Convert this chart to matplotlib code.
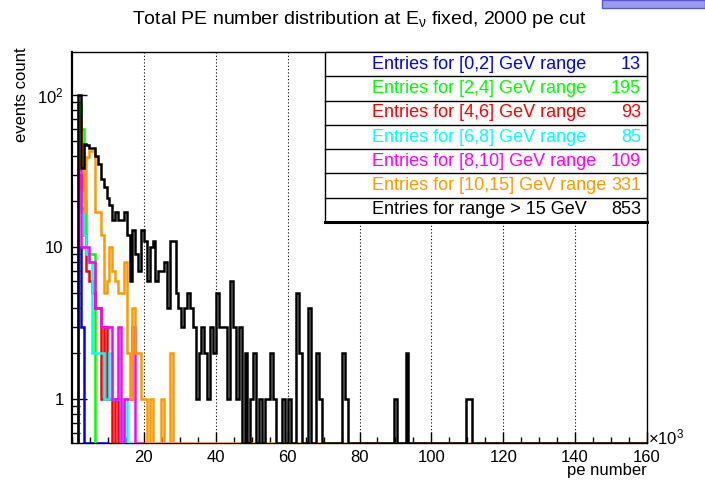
import numpy as np
import matplotlib
matplotlib.use('Agg')
import matplotlib.pyplot as plt
from matplotlib.patches import Rectangle
from matplotlib.lines import Line2D
from matplotlib.ticker import MultipleLocator, LogLocator, NullFormatter

plt.rcParams['font.family'] = ['Liberation Sans', 'DejaVu Sans']
plt.rcParams['mathtext.default'] = 'regular'

# histograms: 200 bins over 0-160 (x10^3 pe), first filled bin starts at 1.6
first_edge = 1.6
bin_width = 0.8
x_max = 160
y_min, y_max = 0.514, 192

counts_0_2 = [10, 3, 0, 0, 0, 0, 0, 0, 0, 0, 0]
counts_2_4 = [88, 60, 20, 9, 9, 9]
counts_4_6 = [30, 18, 12, 7, 6, 5, 4, 4, 1, 3, 1, 1, 0, 1, 0, 0, 0]
counts_6_8 = [23, 17, 12, 9, 8, 2, 2, 2, 2, 1, 1, 2, 1, 1, 1, 0, 1, 0, 0]
counts_8_10 = [32, 10, 10, 10, 8, 8, 4, 4, 3, 3, 3, 3, 1, 1, 3, 0, 1, 1, 1, 3,
               0, 0, 0]
counts_10_15 = [72, 33, 17, 39, 43, 43, 17, 17, 12, 5, 6, 10, 7, 6, 5, 5, 8, 2,
                1, 4, 2, 2, 1, 1, 0, 1, 0, 0, 0, 1, 0, 0, 2]
counts_15_up = [100, 33, 48, 47, 45, 45, 40, 35, 28, 25, 21, 19, 15, 17, 15, 15,
                17, 12, 6, 13, 9, 7, 13, 11, 6, 10, 11, 6, 7, 7, 8, 4, 11, 11,
                5, 4, 3, 4, 5, 4, 3, 1, 2, 3, 2, 1, 3, 2, 5, 3, 3, 3, 1, 6, 3,
                1, 3, 0, 2, 0, 1, 2, 0, 1, 0, 1, 1, 2, 1, 0, 0, 1, 0, 1, 0, 0,
                5, 2, 0, 0, 4, 0, 0, 2, 1, 0, 0, 0, 0, 0, 0, 0, 2, 1, 0, 0, 0,
                0, 0, 0, 0, 0, 0, 0, 0, 0, 0, 0, 0, 0, 1, 0, 0, 0, 2, 0, 0, 0,
                0, 0, 0, 0, 0, 0, 0, 0, 0, 0, 0, 0, 0, 0, 0, 0, 0, 1, 1]

series = [counts_0_2, counts_2_4, counts_4_6, counts_6_8, counts_8_10,
          counts_10_15, counts_15_up]
pad_series = [False, False, False, False, False, True, True]
legend_labels = ['Entries for [0,2] GeV range', 'Entries for [2,4] GeV range',
                 'Entries for [4,6] GeV range', 'Entries for [6,8] GeV range',
                 'Entries for [8,10] GeV range', 'Entries for [10,15] GeV range',
                 'Entries for range > 15 GeV']
entries = [13, 195, 93, 85, 109, 331, 853]
colors = ['#0000ff', '#00ff00', '#ff0000', '#00ffff', '#ff00ff', '#ff9900', '#000000']

x_ticks = [20, 40, 60, 80, 100, 120, 140, 160]

W, H = 705, 483
fig = plt.figure(figsize=(W / 100, H / 100), dpi=100)
ax = fig.add_axes([72 / W, 1 - 443 / H, 575 / W, 391 / H])

n_bins_total = int(round((x_max - first_edge) / bin_width))


def draw_hist(counts, color, pad):
    vals = np.asarray(counts, dtype=float)
    if pad:
        vals = np.concatenate([vals, np.zeros(n_bins_total - len(vals))])
    edges = first_edge + bin_width * np.arange(len(vals) + 1)
    ax.stairs(np.maximum(vals, y_min), edges, baseline=y_min, color=color,
              lw=1.8, zorder=3)


for counts, color, pad in zip(series, colors, pad_series):
    draw_hist(counts, color, pad)

ax.set_xlim(0, x_max)
ax.set_yscale('log')
ax.set_ylim(y_min, y_max)

ax.set_xticks(x_ticks)
ax.set_xticklabels([str(t) for t in x_ticks])
ax.xaxis.set_minor_locator(MultipleLocator(5))
ax.set_yticks([1, 10, 100])
ax.set_yticklabels(['1', '10', '$10^{2}$'])
ax.yaxis.set_minor_locator(LogLocator(base=10, subs=np.arange(2, 10)))
ax.yaxis.set_minor_formatter(NullFormatter())

ax.tick_params(axis='both', which='both', direction='in', labelsize=12, width=1)
ax.tick_params(axis='x', which='major', length=8, pad=5)
ax.tick_params(axis='x', which='minor', length=4)
ax.tick_params(axis='y', which='major', length=11, pad=6)
ax.tick_params(axis='y', which='minor', length=6)
ax.grid(axis='x', which='major', color='black', linestyle=(0, (1, 2)), lw=0.8)
for side in ['top', 'right', 'bottom']:
    ax.spines[side].set_linewidth(1)
ax.spines['left'].set_linewidth(1.6)

# legend box (ROOT style pave)
bx, by = (325 - 72) / 575, (443 - 222) / 391
bw, bh = 1 - bx, 1 - by
ax.add_patch(Rectangle((bx, by), bw, bh, transform=ax.transAxes, facecolor='white',
                       edgecolor='black', lw=1, zorder=6, clip_on=False))
ax.add_line(Line2D([bx, 1], [by, by], transform=ax.transAxes, color='black',
                   lw=2.2, zorder=7, clip_on=False))
row_h = bh / len(legend_labels)
for i, (lab, n, c) in enumerate(zip(legend_labels, entries, colors)):
    top = 1 - i * row_h
    yc = top - row_h / 2
    if i > 0:
        ax.add_line(Line2D([bx, 1], [top, top], transform=ax.transAxes,
                           color='black', lw=1, zorder=7))
    ax.text((372 - 72) / 575, yc, lab, transform=ax.transAxes, color=c,
            fontsize=13, ha='left', va='center', zorder=8)
    ax.text((641 - 72) / 575, yc, str(n), transform=ax.transAxes, color=c,
            fontsize=13, ha='right', va='center', zorder=8)

fig.text(359 / W, 1 - 20 / H, 'Total PE number distribution at E$_{\\nu}$ fixed, 2000 pe cut',
         ha='center', va='center', fontsize=14)
fig.text(22 / W, 1 - 47 / H, 'events count', rotation=90, ha='center', va='top',
         fontsize=12)
fig.text(647 / W, 1 - 471 / H, 'pe number', ha='right', va='center', fontsize=12)
fig.text(648 / W, 1 - 437 / H, '$\\times10^{3}$', ha='left', va='center', fontsize=12)

fig.add_artist(Rectangle((602 / W, 1 - 8 / H), 103 / W, 8 / H, transform=fig.transFigure,
                         facecolor='#9a9aee', edgecolor='#5a5ad0', lw=1))

fig.savefig('out.png', dpi=100)
